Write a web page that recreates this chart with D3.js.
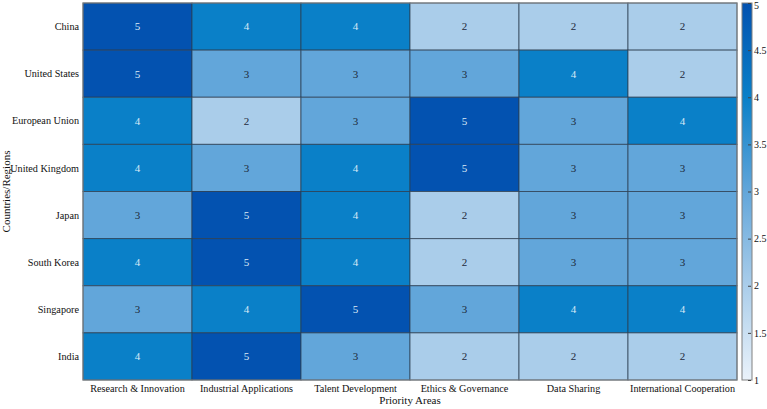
<!DOCTYPE html>
<html>
<head>
<meta charset="utf-8">
<script src="https://cdn.jsdelivr.net/npm/d3@7"></script>
<style>
  body { margin: 0; background: #fff; }
  svg text { font-family: "Liberation Serif", serif; }
</style>
</head>
<body>
<div id="chart"></div>
<script>

var regions = ["China", "United States", "European Union", "United Kingdom", "Japan", "South Korea", "Singapore", "India"];
var areas = ["Research & Innovation", "Industrial Applications", "Talent Development", "Ethics & Governance", "Data Sharing", "International Cooperation"];
var scores = [
  [5, 4, 4, 2, 2, 2],
  [5, 3, 3, 3, 4, 2],
  [4, 2, 3, 5, 3, 4],
  [4, 3, 4, 5, 3, 3],
  [3, 5, 4, 2, 3, 3],
  [4, 5, 4, 2, 3, 3],
  [3, 4, 5, 3, 4, 4],
  [4, 5, 3, 2, 2, 2]
];
var colorStops = [1, 2, 3, 4, 5];
var colorRange = ["#eaf2fa", "#aacdea", "#62a6da", "#0a80c8", "#0352b0"];
var barTicks = [1, 1.5, 2, 2.5, 3, 3.5, 4, 4.5, 5];

var margin = {top: 3, right: 30, bottom: 29, left: 83};
var width = 767, height = 409;
var plotW = 737 - margin.left,
    plotH = 380 - margin.top;

var svg = d3.select("#chart").append("svg")
    .attr("width", width)
    .attr("height", height);

var g = svg.append("g")
    .attr("transform", "translate(" + margin.left + "," + margin.top + ")");

var x = d3.scaleBand().domain(areas).range([0, plotW]);
var y = d3.scaleBand().domain(regions).range([0, plotH]);
var color = d3.scaleLinear().domain(colorStops).range(colorRange);

var cells = [];
scores.forEach(function(row, i) {
    row.forEach(function(v, j) {
        cells.push({region: regions[i], area: areas[j], value: v});
    });
});

g.selectAll("rect.cell")
    .data(cells)
    .enter().append("rect")
    .attr("class", "cell")
    .attr("x", function(d) { return x(d.area); })
    .attr("y", function(d) { return y(d.region); })
    .attr("width", x.bandwidth())
    .attr("height", y.bandwidth())
    .attr("fill", function(d) { return color(d.value); })
    .attr("stroke", "#2c3e50")
    .attr("stroke-opacity", 0.75)
    .attr("stroke-width", 1);

g.selectAll("text.val")
    .data(cells)
    .enter().append("text")
    .attr("class", "val")
    .attr("x", function(d) { return x(d.area) + x.bandwidth() / 2; })
    .attr("y", function(d) { return y(d.region) + y.bandwidth() / 2; })
    .attr("dy", "0.35em")
    .attr("text-anchor", "middle")
    .style("font-size", "11px")
    .attr("fill", function(d) { return d.value >= 4 ? "#dbeaf7" : "#1e2a3a"; })
    .text(function(d) { return d.value; });

// outer frame
g.append("rect")
    .attr("width", plotW)
    .attr("height", plotH)
    .attr("fill", "none")
    .attr("stroke", "#808080")
    .attr("stroke-width", 1);

// y labels
g.selectAll("text.ylab")
    .data(regions)
    .enter().append("text")
    .attr("class", "ylab")
    .attr("x", -4)
    .attr("y", function(d) { return y(d) + y.bandwidth() / 2; })
    .attr("dy", "0.35em")
    .attr("text-anchor", "end")
    .style("font-size", "10.2px")
    .attr("fill", "#111")
    .text(function(d) { return d; });

// x labels
g.selectAll("text.xlab")
    .data(areas)
    .enter().append("text")
    .attr("class", "xlab")
    .attr("x", function(d) { return x(d) + x.bandwidth() / 2; })
    .attr("y", plotH + 12)
    .attr("text-anchor", "middle")
    .style("font-size", "10.2px")
    .attr("fill", "#111")
    .text(function(d) { return d; });

svg.append("text")
    .attr("x", margin.left + plotW / 2)
    .attr("y", 404)
    .attr("text-anchor", "middle")
    .style("font-size", "11px")
    .attr("fill", "#111")
    .text("Priority Areas");

svg.append("text")
    .attr("transform", "translate(9.5," + (margin.top + plotH / 2) + ") rotate(-90)")
    .attr("text-anchor", "middle")
    .style("font-size", "11px")
    .attr("fill", "#111")
    .text("Countries/Regions");

// colorbar
var cbX = 742, cbW = 10;
var cbY = d3.scaleLinear().domain([1, 5]).range([380, 3]);

var defs = svg.append("defs");
var grad = defs.append("linearGradient")
    .attr("id", "cbgrad")
    .attr("x1", 0).attr("y1", 1).attr("x2", 0).attr("y2", 0);
grad.selectAll("stop")
    .data(colorStops)
    .enter().append("stop")
    .attr("offset", function(d) { return (d - 1) / 4; })
    .attr("stop-color", function(d) { return color(d); });

svg.append("rect")
    .attr("x", cbX)
    .attr("y", cbY(5))
    .attr("width", cbW)
    .attr("height", cbY(1) - cbY(5))
    .attr("fill", "url(#cbgrad)")
    .attr("stroke", "#808080")
    .attr("stroke-width", 1);

var cbAxis = svg.append("g")
    .attr("transform", "translate(" + (cbX + cbW - 4) + ",0)")
    .call(d3.axisRight(cbY).tickValues(barTicks).tickSize(3).tickFormat(d3.format("")));
cbAxis.select(".domain").remove();
cbAxis.selectAll("line").attr("stroke", "#444");
cbAxis.selectAll("text")
    .style("font-size", "10px")
    .attr("fill", "#111")
    .attr("x", 6)
    .attr("dy", function(d) { return d === 5 ? "0.5em" : "0.32em"; });

</script>
</body>
</html>
